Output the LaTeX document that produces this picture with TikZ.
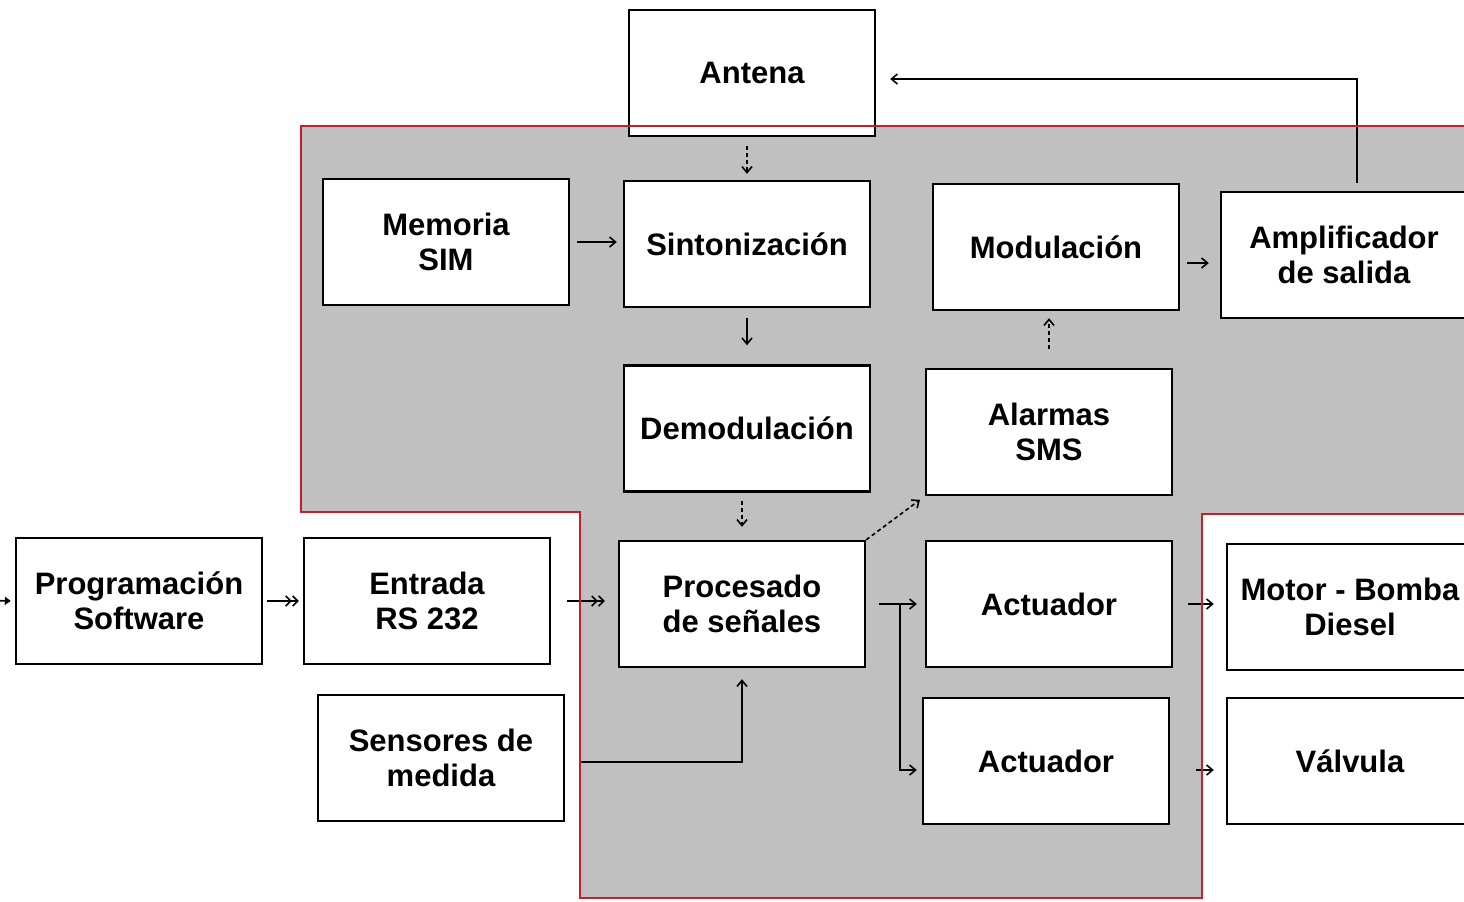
\documentclass[tikz,border=0pt]{standalone}
\usepackage{fontspec}
\setmainfont{Liberation Sans}
\usetikzlibrary{calc,positioning,arrows.meta}
\definecolor{zonegrey}{RGB}{192,192,192}
\definecolor{zonered}{RGB}{200,30,40}
\tikzset{
  line/.style={-{Straight Barb[length=3pt,width=5pt]}, line width=0.8pt},
  dline/.style={line, dash pattern=on 2pt off 1.5pt},
  dbl/.style={-{Straight Barb[length=2.5pt,width=5pt]Straight Barb[length=2.5pt,width=5pt]}, line width=0.8pt},
  box/.style={draw, line width=1.2pt, fill=white, align=center, inner sep=2pt, font=\bfseries\fontsize{15.5}{17.5}\selectfont},
  blockbox/.style={box, minimum width=123pt, minimum height=63pt}
}
\begin{document}
\begin{tikzpicture}[x=0.5pt, y=-0.5pt]
  \clip (0,0) rectangle (1464,901);
  % shaded zone of the device
  \fill[zonegrey] (301,126) -- (1470,126) -- (1470,514) -- (1202,514) -- (1202,898) -- (580,898) -- (580,512) -- (301,512) -- cycle;

  \node[blockbox] (antena) at (752,73) {Antena};
  \node[blockbox] (memoria) at (446,242) {Memoria\\SIM};
  \node[blockbox] (sinto) at (747,244) {Sintonización};
  \node[blockbox, below=28pt of sinto] (demod) {Demodulación};
  \node[blockbox] (modul) at (1056,247) {Modulación};
  \node[blockbox] (ampli) at (1344,255) {Amplificador\\de salida};
  \node[blockbox] (alarmas) at (1049,432) {Alarmas\\SMS};
  \node[blockbox] (prog) at (139,601) {Programación\\Software};
  \node[blockbox] (entrada) at (427,601) {Entrada\\RS 232};
  \node[blockbox] (proces) at (742,604) {Procesado\\de señales};
  \node[blockbox] (act1) at (1049,604) {Actuador};
  \node[blockbox] (motor) at (1350,607) {Motor - Bomba\\Diesel};
  \node[blockbox] (sensores) at (441,758) {Sensores de\\medida};
  \node[blockbox] (act2) at (1046,761) {Actuador};
  \node[blockbox] (valvula) at (1350,761) {Válvula};

  \coordinate (feed) at (-40,600);
  \path (proces.east) ++(34,0) coordinate (split);

  \draw[dline, shorten <=4.5pt, shorten >=3pt] (antena.south -| sinto.north) -- (sinto.north);
  \draw[line, shorten <=3.5pt, shorten >=3pt] (memoria.east) -- (memoria.east -| sinto.west);
  \draw[line, shorten <=5pt, shorten >=9.5pt] (sinto.south) -- (demod.north);
  \draw[dline, shorten <=4pt, shorten >=6.5pt] (proces.north |- demod.south) -- (proces.north);
  \draw[dline, shorten >=3pt] (proces.north east) -- (alarmas.south west);
  \draw[dline, shorten <=9.5pt, shorten >=3.5pt] (alarmas.north) -- (alarmas.north |- modul.south);
  \draw[line, shorten <=3.5pt, shorten >=5.5pt] ([yshift=-8pt]modul.east) -- ([yshift=-8pt]modul.east -| ampli.west);
  \draw[line, shorten <=4pt, shorten >=7pt] ([xshift=6.5pt]ampli.north) |- ([yshift=-3pt]antena.east);
  \draw[-{Triangle[length=3pt,width=4pt]}, line width=0.8pt, shorten >=2pt] (feed) -- (prog.west);
  \draw[dbl, shorten <=2pt, shorten >=2pt] (prog.east) -- (prog.east -| entrada.west);
  \draw[dbl, shorten <=8pt, shorten >=6.5pt] (entrada.east) -- (entrada.east -| proces.west);
  \draw[line, shorten <=7pt, shorten >=5.5pt] ([yshift=-2pt]sensores.east) -| (proces.south);
  \draw[line, shorten <=6.5pt, shorten >=4pt] (proces.east) -- (proces.east -| act1.west);
  \draw[line, shorten >=2.5pt] (split) |- ([yshift=-4.5pt]act2.west);
  \draw[line, shorten <=7.5pt, shorten >=6pt] (act1.east) -- (act1.east -| motor.west);
  \draw[line, shorten <=13pt, shorten >=6pt] ([yshift=-4.5pt]act2.east) -- ([yshift=-4.5pt]act2.east -| valvula.west);

  % outline of the zone
  \draw[zonered, line width=1pt] (301,126) -- (1470,126) -- (1470,514) -- (1202,514) -- (1202,898) -- (580,898) -- (580,512) -- (301,512) -- cycle;
\end{tikzpicture}
\end{document}
